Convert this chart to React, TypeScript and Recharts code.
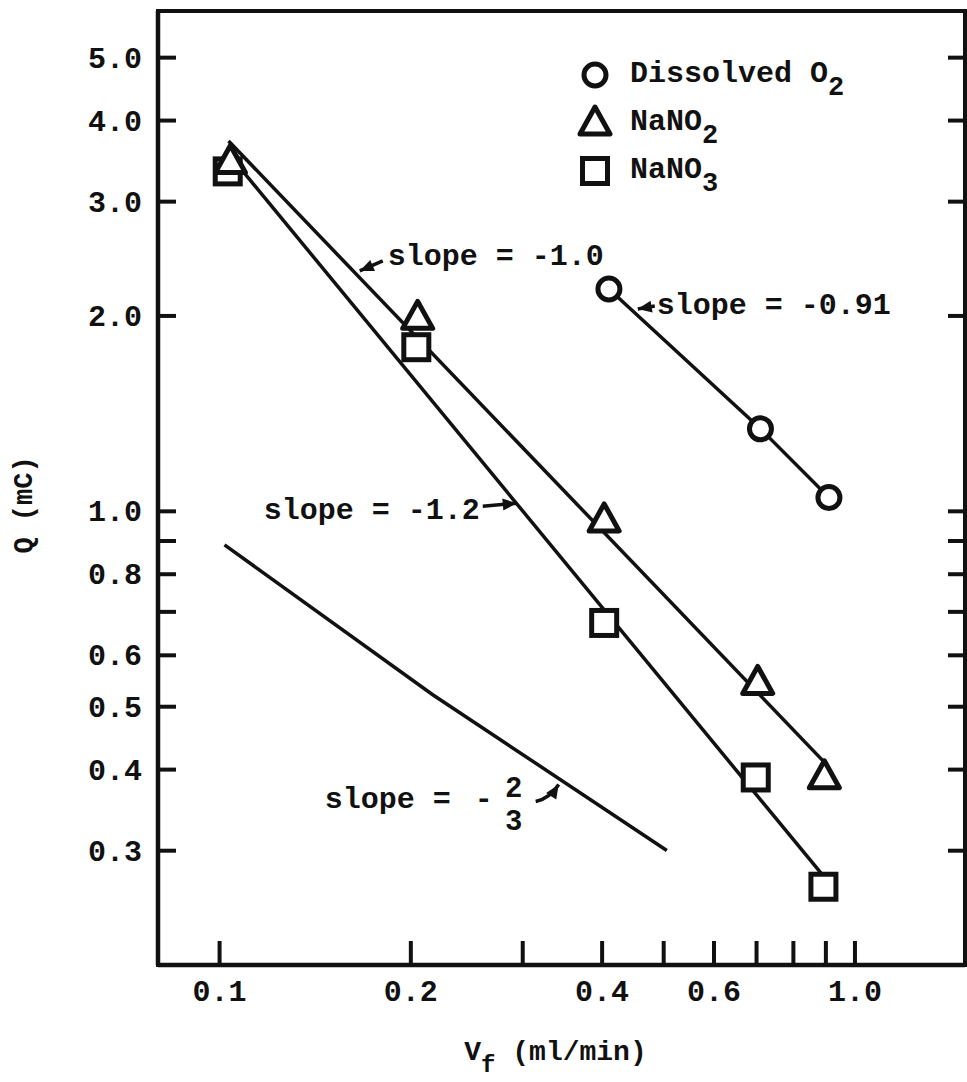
import React from "react";
import { ComposedChart, XAxis, YAxis, Line, Scatter, ReferenceDot, ReferenceArea, Legend } from "recharts";

// measured points, V_f in ml/min and Q in mC
const o2Flow = [0.41, 0.71, 0.91];
const o2Charge = [2.2, 1.34, 1.05];
const nitriteFlow = [0.104, 0.205, 0.403, 0.703, 0.895];
const nitriteCharge = [3.46, 1.99, 0.97, 0.545, 0.39];
const nitrateFlow = [0.103, 0.204, 0.403, 0.698, 0.892];
const nitrateCharge = [3.34, 1.79, 0.673, 0.389, 0.264];

// hand drawn slope lines
const slope10Flow = [0.1033, 0.89];
const slope10Charge = [3.72, 0.413];
const slope12Flow = [0.1044, 0.887];
const slope12Charge = [3.51, 0.276];
const slope23Flow = [0.1018, 0.2165, 0.5057];
const slope23Charge = [0.888, 0.5217, 0.3003];

const seriesNames = ["Dissolved O", "NaNO", "NaNO"];
const seriesSubs = ["2", "2", "3"];

const xDomain = [0.08, 1.49];
const yDomain = [0.2, 5.9];
const xTicks = [0.1, 0.2, 0.3, 0.4, 0.5, 0.6, 0.7, 0.8, 0.9, 1.0];
const xLabels = ["0.1", "0.2", "", "0.4", "", "0.6", "", "", "", "1.0"];
const yTicks = [0.3, 0.4, 0.5, 0.6, 0.7, 0.8, 0.9, 1, 2, 3, 4, 5];
const yLabels = ["0.3", "0.4", "0.5", "0.6", "", "0.8", "", "1.0", "2.0", "3.0", "4.0", "5.0"];

// where each slope note's arrow touches its line (data coords)
const noteFlow = [0.1662, 0.4552, 0.2936, 0.343];
const noteCharge = [2.346, 2.05, 1.029, 0.3835];

const FONT = "'Liberation Mono', 'DejaVu Sans Mono', monospace";
const INK = "#111";

const zip = (v: number[], q: number[]) => v.map((x, i) => ({ v: x, q: q[i] }));

const Ring = ({ cx, cy }: any) => (
  <circle cx={cx} cy={cy} r={11} fill="#fff" stroke={INK} strokeWidth={5} />
);
const Tri = ({ cx, cy }: any) => (
  <path
    d={`M${cx},${cy - 16}L${cx + 15},${cy + 11}L${cx - 15},${cy + 11}Z`}
    fill="#fff"
    stroke={INK}
    strokeWidth={5}
    strokeLinejoin="round"
  />
);
const Box = ({ cx, cy }: any) => (
  <rect x={cx - 12.5} y={cy - 12.5} width={25} height={25} fill="#fff" stroke={INK} strokeWidth={5} />
);
const marks = [Ring, Tri, Box];

const head = (tx: number, ty: number, fx: number, fy: number) => {
  const a = Math.atan2(ty - fy, tx - fx);
  const len = 14, half = 6;
  const bx = tx - len * Math.cos(a), by = ty - len * Math.sin(a);
  const nx = -Math.sin(a) * half, ny = Math.cos(a) * half;
  return `M${tx},${ty}L${bx + nx},${by + ny}L${bx - nx},${by - ny}Z`;
};

const txt = { fontFamily: FONT, fontSize: 30, fontWeight: 700, fill: INK } as const;

const StraightNote = ({ cx, cy, label, tail, at, anchor }: any) => (
  <g>
    <line x1={cx + tail[0]} y1={cy + tail[1]} x2={cx} y2={cy} stroke={INK} strokeWidth={3.5} />
    <path d={head(cx, cy, cx + tail[0], cy + tail[1])} fill={INK} />
    <text x={cx + at[0]} y={cy + at[1]} textAnchor={anchor} {...txt}>
      {label}
    </text>
  </g>
);

const FractionNote = ({ cx, cy }: any) => (
  <g>
    <path d={`M${cx - 24},${cy + 20}Q${cx - 10},${cy + 17} ${cx - 1},${cy + 3}`} fill="none" stroke={INK} strokeWidth={3.5} />
    <path d={head(cx - 1, cy + 3, cx - 8, cy + 14)} fill={INK} />
    <text x={cx - 235} y={cy + 27} {...txt}>slope =</text>
    <text x={cx - 76} y={cy + 27} textAnchor="middle" {...txt}>-</text>
    <text x={cx - 46} y={cy + 16} textAnchor="middle" {...txt} fontSize={29}>2</text>
    <text x={cx - 46} y={cy + 49} textAnchor="middle" {...txt} fontSize={29}>3</text>
  </g>
);

const BottomTick = ({ x, y, payload }: any) => {
  const label = xLabels[xTicks.indexOf(payload.value)];
  return (
    <g>
      <line x1={x} y1={y} x2={x} y2={y - 24} stroke={INK} strokeWidth={4} />
      {label ? (
        <text x={x} y={y + 36} textAnchor="middle" {...txt}>{label}</text>
      ) : null}
    </g>
  );
};
const TopTick = ({ x, y }: any) => (
  <line x1={x} y1={y} x2={x} y2={y + 24} stroke={INK} strokeWidth={4} />
);
const LeftTick = ({ x, y, payload }: any) => {
  const label = yLabels[yTicks.indexOf(payload.value)];
  return (
    <g>
      <line x1={x} y1={y} x2={x + 18} y2={y} stroke={INK} strokeWidth={4} />
      {label ? (
        <text x={x - 16} y={y + 10} textAnchor="end" {...txt}>{label}</text>
      ) : null}
    </g>
  );
};
const RightTick = ({ x, y }: any) => (
  <line x1={x} y1={y} x2={x - 17} y2={y} stroke={INK} strokeWidth={4} />
);

const XTitle = ({ viewBox }: any) => {
  const cx = viewBox.x + viewBox.width / 2 - 6;
  return (
    <text x={cx} y={viewBox.y + 95} textAnchor="middle" {...txt} fontSize={28}>
      V<tspan dy={12} fontSize={24}>f</tspan>
      <tspan dy={-12}> (ml/min)</tspan>
    </text>
  );
};
const YTitle = ({ viewBox }: any) => {
  const x = viewBox.x - 53;
  const y = viewBox.y + viewBox.height / 2 + 17;
  return (
    <text x={x} y={y} transform={`rotate(-90 ${x} ${y})`} textAnchor="middle" dominantBaseline="middle" {...txt} fontSize={27}>
      Q (mC)
    </text>
  );
};

const LegendBox = () => (
  <div style={{ fontFamily: FONT, fontSize: 30, fontWeight: 700, color: INK, lineHeight: 1 }}>
    {seriesNames.map((name, i) => {
      const Mark = marks[i];
      return (
        <div key={i} style={{ display: "flex", alignItems: "center", height: 48 }}>
          <svg width={36} height={36}>
            <Mark cx={18} cy={19} />
          </svg>
          <span style={{ marginLeft: 17, whiteSpace: "nowrap" }}>
            {name}
            <span style={{ position: "relative", top: 13, fontSize: 27 }}>{seriesSubs[i]}</span>
          </span>
        </div>
      );
    })}
  </div>
);

export default function App() {
  const axisLine = { stroke: INK, strokeWidth: 4.5 };
  const thinLine = { stroke: INK, strokeWidth: 3.5 };
  const notes = [
    { label: "slope = -1.0", tail: [23, -10], at: [28, -6], anchor: "start" },
    { label: "slope = -0.91", tail: [17, -3], at: [19, 5], anchor: "start" },
    { label: "slope = -1.2", tail: [-34, 3], at: [-37, 16], anchor: "end" },
  ];
  return (
    <div style={{ position: "absolute", left: 0, top: 0, background: "#fff" }}>
      <ComposedChart width={967} height={1082} margin={{ top: 0, right: 0, left: 78, bottom: 57 }}>
        <XAxis
          xAxisId="b"
          dataKey="v"
          type="number"
          scale="log"
          domain={xDomain}
          allowDataOverflow
          ticks={xTicks}
          height={60}
          tickSize={0}
          tickMargin={0}
          tickLine={false}
          axisLine={axisLine}
          tick={<BottomTick />}
          label={<XTitle />}
        />
        <XAxis
          xAxisId="t"
          orientation="top"
          type="number"
          scale="log"
          domain={xDomain}
          allowDataOverflow
          ticks={xTicks}
          height={11}
          tickSize={0}
          tickMargin={0}
          tickLine={false}
          axisLine={thinLine}
          tick={<TopTick />}
        />
        <YAxis
          yAxisId="l"
          dataKey="q"
          type="number"
          scale="log"
          domain={yDomain}
          allowDataOverflow
          ticks={yTicks}
          width={80}
          tickSize={0}
          tickMargin={0}
          tickLine={false}
          axisLine={axisLine}
          tick={<LeftTick />}
          label={<YTitle />}
        />
        <YAxis
          yAxisId="r"
          orientation="right"
          type="number"
          scale="log"
          domain={yDomain}
          allowDataOverflow
          ticks={yTicks}
          width={2}
          tickSize={0}
          tickMargin={0}
          tickLine={false}
          axisLine={thinLine}
          tick={<RightTick />}
        />

        {/* heavy plot frame */}
        <ReferenceArea
          xAxisId="b"
          yAxisId="l"
          x1={xDomain[0]}
          x2={xDomain[1]}
          y1={yDomain[0]}
          y2={yDomain[1]}
          fill="none"
          fillOpacity={0}
          stroke={INK}
          strokeWidth={4}
          ifOverflow="visible"
        />

        <Line xAxisId="b" yAxisId="l" data={zip(slope10Flow, slope10Charge)} dataKey="q" type="linear" stroke={INK} strokeWidth={3.5} dot={false} isAnimationActive={false} legendType="none" />
        <Line xAxisId="b" yAxisId="l" data={zip(slope12Flow, slope12Charge)} dataKey="q" type="linear" stroke={INK} strokeWidth={3.5} dot={false} isAnimationActive={false} legendType="none" />
        <Line xAxisId="b" yAxisId="l" data={zip(slope23Flow, slope23Charge)} dataKey="q" type="linear" stroke={INK} strokeWidth={3.5} dot={false} isAnimationActive={false} legendType="none" />
        <Line xAxisId="b" yAxisId="l" data={zip(o2Flow, o2Charge)} dataKey="q" type="linear" stroke={INK} strokeWidth={3.5} dot={false} isAnimationActive={false} legendType="none" />

        <Scatter xAxisId="b" yAxisId="l" name="NaNO3" data={zip(nitrateFlow, nitrateCharge)} dataKey="q" shape={(p: any) => <Box cx={p.cx} cy={p.cy} />} isAnimationActive={false} />
        <Scatter xAxisId="b" yAxisId="l" name="NaNO2" data={zip(nitriteFlow, nitriteCharge)} dataKey="q" shape={(p: any) => <Tri cx={p.cx} cy={p.cy} />} isAnimationActive={false} />
        <Scatter xAxisId="b" yAxisId="l" name="Dissolved O2" data={zip(o2Flow, o2Charge)} dataKey="q" shape={(p: any) => <Ring cx={p.cx} cy={p.cy} />} isAnimationActive={false} />

        {notes.map((n, i) => (
          <ReferenceDot
            key={i}
            xAxisId="b"
            yAxisId="l"
            x={noteFlow[i]}
            y={noteCharge[i]}
            shape={(p: any) => <StraightNote cx={p.cx} cy={p.cy} {...n} />}
          />
        ))}
        <ReferenceDot
          xAxisId="b"
          yAxisId="l"
          x={noteFlow[3]}
          y={noteCharge[3]}
          shape={(p: any) => <FractionNote cx={p.cx} cy={p.cy} />}
        />

        <Legend
          layout="vertical"
          align="center"
          verticalAlign="middle"
          wrapperStyle={{ position: "absolute", left: 577, top: 50, width: "auto" }}
          content={() => <LegendBox />}
        />
      </ComposedChart>
    </div>
  );
}
